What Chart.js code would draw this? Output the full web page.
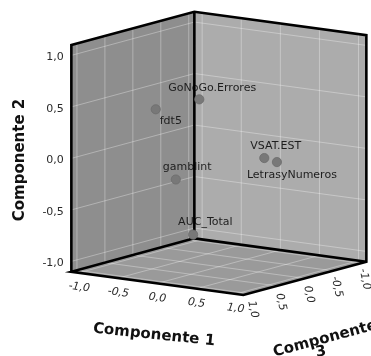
<!DOCTYPE html>
<html>
<head>
<meta charset="utf-8">
<script src="https://cdn.jsdelivr.net/npm/chart.js@4.4.1/dist/chart.umd.min.js"></script>
<style>
  html, body { margin: 0; padding: 0; background: #ffffff; }
  canvas { display: block; }
</style>
</head>
<body>
<canvas id="grafico" width="371" height="356"></canvas>
<script>
// Component loadings, one entry per variable
const variables = ['GoNoGo.Errores', 'fdt5', 'gamblint', 'AUC_Total', 'VSAT.EST', 'LetrasyNumeros'];
const componente1 = [-0.15, -0.50, 0.00, 0.10, 0.76, 0.80];
const componente2 = [0.53, 0.44, -0.14, -0.69, 0.07, 0.01];
const componente3 = [0.14, 0.43, 0.77, 0.60, 0.25, 0.08];

// Axis ticks and titles
const tickValues = [-1.0, -0.5, 0.0, 0.5, 1.0];
const tickLabels = ['-1,0', '-0,5', '0,0', '0,5', '1,0'];
const axisTitles = ['Componente 1', 'Componente 2', 'Componente', '3'];

// Where each variable name sits relative to its marker (px)
const labelOffsets = [[-31, -11], [4, 12], [-13, -12], [-15, -12], [-14, -12], [-30, 13]];

// ---- 3D view: every axis spans [-R, R]; screen = origin + a*e1 + b*e2 + c*e3
const R = 1.1;
const VIEW = {
  origin: [218.85, 153.4],
  e1: [78.18, 10.61],
  e2: [0, -103],
  e3: [-55.91, 15.16]
};
function project(a, b, c) {
  return {
    x: VIEW.origin[0] + a * VIEW.e1[0] + b * VIEW.e2[0] + c * VIEW.e3[0],
    y: VIEW.origin[1] + a * VIEW.e1[1] + b * VIEW.e2[1] + c * VIEW.e3[1]
  };
}
function polyline(list) {
  return list.map(p => p ? project(p[0], p[1], p[2]) : { x: null, y: null });
}

// Back walls and floor of the cube
const walls = [
  { color: '#8e8e8e', corners: [[-R, -R, R], [-R, R, R], [-R, R, -R], [-R, -R, -R], [-R, -R, R]] },
  { color: '#acacac', corners: [[-R, -R, -R], [-R, R, -R], [R, R, -R], [R, -R, -R], [-R, -R, -R]] },
  { color: '#9a9a9a', corners: [[-R, -R, R], [-R, -R, -R], [R, -R, -R], [R, -R, R], [-R, -R, R]] }
];

// Grid lines on the walls and floor, one segment per tick
const gridPath = [];
tickValues.forEach(v => {
  gridPath.push([-R, v, R], [-R, v, -R], null);
  gridPath.push([-R, -R, v], [-R, R, v], null);
  gridPath.push([-R, v, -R], [R, v, -R], null);
  gridPath.push([v, -R, -R], [v, R, -R], null);
  gridPath.push([v, -R, R], [v, -R, -R], null);
  gridPath.push([-R, -R, v], [R, -R, v], null);
});

// Visible cube edges
const LB = [-R, -R, R], LT = [-R, R, R], BT = [-R, R, -R], BB = [-R, -R, -R];
const RT = [R, R, -R], RB = [R, -R, -R], FB = [R, -R, R];
const edgePath = [LB, LT, BT, RT, RB, FB, LB, BB, BT, null, BB, RB];

const FONT = '"DejaVu Sans", "Noto Sans", sans-serif';

const datasets = [
  {
    role: 'puntos',
    data: variables.map((_, i) => project(componente1[i], componente2[i], componente3[i])),
    showLine: false,
    pointRadius: 4.6,
    pointBackgroundColor: '#787878',
    pointBorderColor: '#6c6c6c',
    pointBorderWidth: 0.8,
    order: 0
  },
  {
    role: 'aristas',
    data: polyline(edgePath),
    showLine: true,
    spanGaps: false,
    borderColor: '#000000',
    borderWidth: 2.6,
    borderJoinStyle: 'miter',
    pointRadius: 0,
    fill: false,
    order: 1
  },
  {
    role: 'rejilla',
    data: polyline(gridPath),
    showLine: true,
    spanGaps: false,
    borderColor: 'rgba(255,255,255,0.32)',
    borderWidth: 1,
    pointRadius: 0,
    fill: false,
    order: 2
  }
].concat(walls.map(w => ({
  role: 'pared',
  data: polyline(w.corners),
  showLine: true,
  borderWidth: 0,
  borderColor: 'rgba(0,0,0,0)',
  backgroundColor: w.color,
  fill: 'shape',
  pointRadius: 0,
  order: 3
})));

function drawText(ctx, text, x, y, angleDeg, font, color, align) {
  ctx.save();
  ctx.translate(x, y);
  ctx.rotate(angleDeg * Math.PI / 180);
  ctx.font = font;
  ctx.fillStyle = color;
  ctx.textAlign = align || 'center';
  ctx.textBaseline = 'middle';
  ctx.fillText(text, 0, 0);
  ctx.restore();
}

const rotulos3d = {
  id: 'rotulos3d',
  beforeDatasetDraw(chart, args) {
    // variable names go under the cube edges
    if (chart.data.datasets[args.index].role !== 'aristas') return;
    const meta = chart.getDatasetMeta(0);
    meta.data.forEach((el, i) => {
      drawText(chart.ctx, variables[i], el.x + labelOffsets[i][0], el.y + labelOffsets[i][1],
        0, '11px ' + FONT, '#1e1e1e', 'left');
    });
  },
  afterDatasetsDraw(chart) {
    const ctx = chart.ctx;
    const sx = chart.scales.x, sy = chart.scales.y;
    const px = p => ({ x: sx.getPixelForValue(p.x), y: sy.getPixelForValue(p.y) });
    const a1 = Math.atan2(VIEW.e1[1], VIEW.e1[0]) * 180 / Math.PI;

    tickValues.forEach((v, i) => {
      // Componente 2, left edge
      const p2 = px(project(-R, v, R));
      drawText(ctx, tickLabels[i], p2.x - 7.5, p2.y + 2, 0, '11px ' + FONT, '#2a2a2a', 'right');
      // Componente 1, front-left floor edge
      const p1 = px(project(v, -R, R));
      drawText(ctx, tickLabels[i], p1.x, p1.y + 14.5, a1, 'italic 11px ' + FONT, '#2a2a2a');
      // Componente 3, front-right floor edge
      const p3 = px(project(R, -R, v));
      drawText(ctx, tickLabels[i], p3.x + 4, p3.y + 16, 78, 'italic 11px ' + FONT, '#2a2a2a');
    });

    const bold = 'bold 15px ' + FONT;
    drawText(ctx, axisTitles[0], 154, 335, 6, bold, '#111111');
    drawText(ctx, axisTitles[1], 20, 160, -90, bold, '#111111');
    drawText(ctx, axisTitles[2], 325, 339, -15, bold, '#111111');
    drawText(ctx, axisTitles[3], 321, 352, -10, bold, '#111111');
  }
};

new Chart(document.getElementById('grafico'), {
  type: 'scatter',
  data: { datasets },
  options: {
    responsive: false,
    animation: false,
    events: [],
    layout: { padding: 0, autoPadding: false },
    plugins: { legend: { display: false }, tooltip: { enabled: false } },
    scales: {
      x: { type: 'linear', min: 0, max: 371, display: false },
      y: { type: 'linear', min: 0, max: 356, reverse: true, display: false }
    }
  },
  plugins: [rotulos3d]
});
</script>
</body>
</html>
